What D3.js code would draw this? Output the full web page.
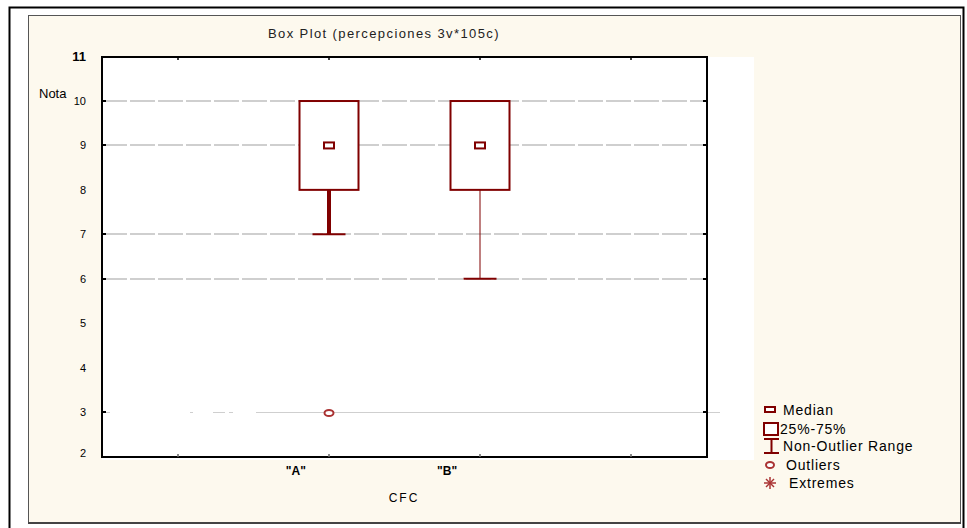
<!DOCTYPE html>
<html>
<head>
<meta charset="utf-8">
<script src="https://cdn.jsdelivr.net/npm/d3@7"></script>
<style>
body { margin: 0; background: #fff; }
text { font-family: "Liberation Sans", Arial, sans-serif; }
</style>
</head>
<body>
<div id="chart"></div>
<script>
// data
var categories = ["A", "B"],
	slots = ["", "A", "B", " "],
	medians = [9, 9],
	q1s = [8, 8],
	q3s = [10, 10],
	lowWhisk = [7, 6],
	highWhisk = [10, 10],
	outliers = [[3], []],
	yTicks = [2, 3, 4, 5, 6, 7, 8, 9, 10, 11],
	gridTicks = [10, 9, 7, 6, 3],
	legendItems = ["Median", "25%-75%", "Non-Outlier Range", "Outliers", "Extremes"];

var W = 967, H = 528;
var plot = {left: 102, right: 707, top: 57, bottom: 457};
var red = "#800000";

var svg = d3.select("#chart").append("svg")
	.attr("width", W)
	.attr("height", H);

// outer frame + cream panel
svg.append("rect").attr("x", 0).attr("y", 0).attr("width", W).attr("height", H).attr("fill", "#fff");
svg.append("rect")
	.attr("x", 9.5).attr("y", 7.5).attr("width", 954).attr("height", 530)
	.attr("fill", "none").attr("stroke", "#000").attr("stroke-width", 2);
svg.append("rect")
	.attr("x", 28.5).attr("y", 15.5).attr("width", 932).attr("height", 507)
	.attr("fill", "#fdf9ee").attr("stroke", "#555").attr("stroke-width", 1);
svg.append("line")
	.attr("x1", 28).attr("x2", 961).attr("y1", 523).attr("y2", 523)
	.style("stroke", "#444").style("stroke-width", 2);

// white plot backdrop (extends past the right axis)
svg.append("rect")
	.attr("x", plot.left).attr("y", plot.top)
	.attr("width", 754 - plot.left).attr("height", 460 - plot.top)
	.attr("fill", "#fff");

var x = d3.scaleBand().domain(slots).range([plot.left, plot.right]);
var y = d3.scaleLinear().domain([2, 11]).range([456.4, 56.6]);

// gridlines
var grid = svg.append("g").attr("class", "grid");
grid.selectAll("line")
	.data(gridTicks.filter(function(d) { return d != 3; }))
	.enter().append("line")
	.attr("x1", plot.left).attr("x2", plot.right)
	.attr("y1", function(d) { return Math.round(y(d)); })
	.attr("y2", function(d) { return Math.round(y(d)); })
	.style("stroke", "#cfcfcf").style("stroke-width", 2)
	.style("stroke-dasharray", "25,3");

// the line at 3 is patchy on the left and solid afterwards
var y3 = Math.round(y(3)) + 0.5;
grid.append("line")
	.attr("x1", plot.left).attr("x2", 256).attr("y1", y3).attr("y2", y3)
	.style("stroke", "#cfcfcf").style("stroke-width", 1)
	.style("stroke-dasharray", "0,4,4,80,3,20,12,0");
grid.append("line")
	.attr("x1", 256).attr("x2", 720).attr("y1", y3).attr("y2", y3)
	.style("stroke", "#cfcfcf").style("stroke-width", 1);

// axes frame
svg.append("rect")
	.attr("x", plot.left).attr("y", plot.top)
	.attr("width", plot.right - plot.left).attr("height", plot.bottom - plot.top)
	.attr("fill", "none").attr("stroke", "#000").attr("stroke-width", 2);

// ticks on the y axes at grid lines
var yt = svg.append("g");
gridTicks.forEach(function(d) {
	var yy = Math.round(y(d));
	yt.append("line").attr("x1", plot.left).attr("x2", plot.left + 4).attr("y1", yy).attr("y2", yy)
		.style("stroke", "#000").style("stroke-width", 2);
	yt.append("line").attr("x1", plot.right - 4).attr("x2", plot.right).attr("y1", yy).attr("y2", yy)
		.style("stroke", "#000").style("stroke-width", 2);
});

// top / bottom x ticks
slots.forEach(function(s) {
	var xx = Math.round(x(s) + x.bandwidth() / 2);
	svg.append("line").attr("x1", xx).attr("x2", xx).attr("y1", plot.top).attr("y2", plot.top + 3)
		.style("stroke", "#000").style("stroke-width", 1.5);
	svg.append("line").attr("x1", xx).attr("x2", xx).attr("y1", plot.bottom - 3).attr("y2", plot.bottom)
		.style("stroke", "#666").style("stroke-width", 1.5);
});

// y tick labels
svg.append("g").selectAll("text")
	.data(yTicks)
	.enter().append("text")
	.attr("x", 86)
	.attr("y", function(d) { return Math.min(y(d) + 4, 457); })
	.attr("text-anchor", "end")
	.style("font-size", d => d == 11 ? "13px" : "11px")
	.style("font-weight", d => d == 11 ? "bold" : "normal")
	.style("fill", "#000")
	.text(function(d) { return d; });

svg.append("text")
	.attr("x", 39).attr("y", 98)
	.text("Nota")
	.style("font-size", "13px");

// title
svg.append("text")
	.attr("x", 384).attr("y", 38)
	.attr("text-anchor", "middle")
	.text("Box Plot (percepciones 3v*105c)")
	.style("font-size", "13px")
	.style("letter-spacing", "1.4px")
	.style("fill", "#222");

// category labels (sit left of the box centres in the original)
svg.append("g").selectAll("text")
	.data(categories)
	.enter().append("text")
	.attr("x", function(d) { return x(d) + x.bandwidth() / 2 - 33; })
	.attr("y", 475)
	.attr("text-anchor", "middle")
	.text(function(d) { return '"' + d + '"'; })
	.style("font-size", "12px")
	.style("font-weight", "bold");

svg.append("text")
	.attr("x", 404).attr("y", 502)
	.attr("text-anchor", "middle")
	.text("CFC")
	.style("font-size", "12px")
	.style("letter-spacing", "2px");

// boxes
var boxW = 59, capW = 33;
var boxes = svg.append("g").attr("class", "boxes");
categories.forEach(function(c, i) {
	var cx = Math.round(x(c) + x.bandwidth() / 2);
	var g = boxes.append("g");
	// whisker
	g.append("line")
		.attr("x1", cx).attr("x2", cx)
		.attr("y1", y(q1s[i])).attr("y2", y(lowWhisk[i]))
		.style("stroke", red).style("stroke-width", i == 0 ? 4 : 1);
	g.append("line")
		.attr("x1", cx - capW / 2).attr("x2", cx + capW / 2)
		.attr("y1", y(lowWhisk[i])).attr("y2", y(lowWhisk[i]))
		.style("stroke", red).style("stroke-width", 2);
	if (highWhisk[i] > q3s[i]) {
		g.append("line")
			.attr("x1", cx).attr("x2", cx)
			.attr("y1", y(q3s[i])).attr("y2", y(highWhisk[i]))
			.style("stroke", red).style("stroke-width", 1);
	}
	// box
	g.append("rect")
		.attr("x", cx - boxW / 2).attr("y", y(q3s[i]))
		.attr("width", boxW).attr("height", y(q1s[i]) - y(q3s[i]))
		.attr("fill", "#fff").attr("stroke", red).attr("stroke-width", 2);
	// median
	g.append("rect")
		.attr("x", cx - 5).attr("y", y(medians[i]) - 3)
		.attr("width", 10).attr("height", 6)
		.attr("fill", "#fff").attr("stroke", red).attr("stroke-width", 2);
	// outliers
	outliers[i].forEach(function(o) {
		g.append("ellipse")
			.attr("cx", cx).attr("cy", y(o) + 1)
			.attr("rx", 4.5).attr("ry", 3)
			.attr("fill", "#fff").attr("stroke", "#a33").attr("stroke-width", 2);
	});
});

// legend
var legend = svg.append("g").attr("id", "legend").attr("transform", "translate(763,0)");
var legY = [410, 429, 446, 465, 483];

legend.append("rect").attr("x", 2).attr("y", legY[0] - 3).attr("width", 10).attr("height", 5)
	.attr("fill", "#fff").attr("stroke", red).attr("stroke-width", 2);
legend.append("rect").attr("x", 1).attr("y", legY[1] - 6).attr("width", 14).attr("height", 12)
	.attr("fill", "#fff").attr("stroke", red).attr("stroke-width", 2);
legend.append("line").attr("x1", 1).attr("x2", 16).attr("y1", legY[2] - 7).attr("y2", legY[2] - 7)
	.style("stroke", red).style("stroke-width", 2);
legend.append("line").attr("x1", 1).attr("x2", 16).attr("y1", legY[2] + 7).attr("y2", legY[2] + 7)
	.style("stroke", red).style("stroke-width", 2);
legend.append("line").attr("x1", 8.5).attr("x2", 8.5).attr("y1", legY[2] - 7).attr("y2", legY[2] + 7)
	.style("stroke", red).style("stroke-width", 2);
legend.append("ellipse").attr("cx", 7).attr("cy", legY[3]).attr("rx", 4).attr("ry", 3)
	.attr("fill", "#fff").attr("stroke", "#a33").attr("stroke-width", 2);
// extremes: little asterisk drawn from strokes
var ast = legend.append("g").attr("transform", "translate(7," + legY[4] + ")")
	.style("stroke", "#a33").style("stroke-width", 1.5);
ast.append("line").attr("x1", 0).attr("x2", 0).attr("y1", -6).attr("y2", 6);
ast.append("line").attr("x1", -6).attr("x2", 6).attr("y1", 0).attr("y2", 0);
ast.append("line").attr("x1", -4).attr("x2", 4).attr("y1", -4).attr("y2", 4);
ast.append("line").attr("x1", -4).attr("x2", 4).attr("y1", 4).attr("y2", -4);

legend.selectAll("text.lab")
	.data(legendItems)
	.enter().append("text")
	.attr("class", "lab")
	.attr("x", function(d, i) { return [20, 17, 20, 23, 26][i]; })
	.attr("y", function(d, i) { return legY[i] + 5; })
	.text(function(d) { return d; })
	.style("font-size", "14px")
	.style("letter-spacing", "0.8px")
	.style("fill", "#000");
</script>
</body>
</html>
